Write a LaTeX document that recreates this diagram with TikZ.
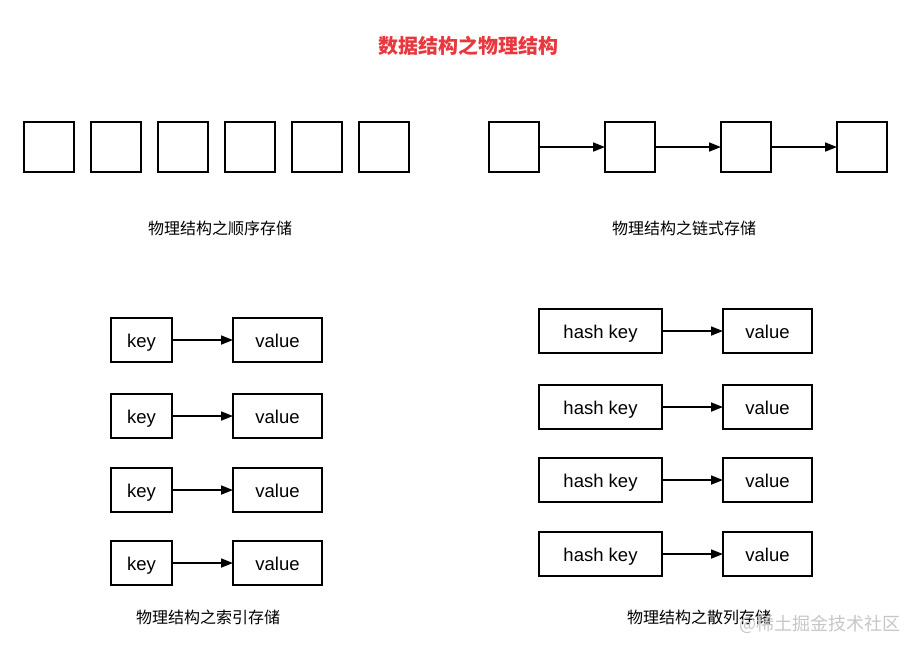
\documentclass[tikz,border=0pt]{standalone}
\usepackage{fontspec}
\setmainfont{Liberation Sans}
\newfontfamily\cjk{Noto Sans CJK SC}
\usetikzlibrary{positioning, arrows.meta}
\definecolor{titlered}{HTML}{E8383D}

\begin{document}
\begin{tikzpicture}[x=1pt, y=-1pt, >={Triangle[length=12pt,width=9pt]}, node distance=17pt,
  cell/.style={draw, line width=1.7pt, outer sep=0pt, minimum size=50pt, inner sep=0pt},
  keybox/.style={draw, line width=1.7pt, outer sep=0pt, minimum height=44pt, minimum width=61pt,
    text height=17pt, text depth=2pt, font=\fontsize{18.5}{20}\selectfont},
  valbox/.style={keybox, minimum width=89pt},
  hashbox/.style={keybox, minimum width=123pt},
  caption/.style={font=\cjk\fontsize{16}{18}\selectfont},
  link/.style={->, line width=1.7pt}]
  \useasboundingbox (0,0) rectangle (919,653);
  \node[font=\cjk\bfseries\fontsize{20}{24}\selectfont, text=titlered] (title) at (468,46) {数据结构之物理结构};

  % sequential storage
  \node[cell] (s1) at (49,147) {};
  \node[cell, right=of s1] (s2) {};
  \node[cell, right=of s2] (s3) {};
  \node[cell, right=of s3] (s4) {};
  \node[cell, right=of s4] (s5) {};
  \node[cell, right=of s5] (s6) {};
  \node[caption] (seqlabel) at (220,228) {物理结构之顺序存储};

  % linked storage
  \node[cell] (c1) at (514,147) {};
  \node[cell, right=66pt of c1] (c2) {};
  \node[cell, right=66pt of c2] (c3) {};
  \node[cell, right=66pt of c3] (c4) {};
  \draw[link] (c1) -- (c2);
  \draw[link] (c2) -- (c3);
  \draw[link] (c3) -- (c4);
  \node[caption] (linklabel) at (684,228) {物理结构之链式存储};

  % index storage
  \node[keybox] (k1) at (141.5,340) {key};
  \node[valbox, right=61pt of k1] (v1) {value};
  \node[keybox] (k2) at (141.5,416) {key};
  \node[valbox, right=61pt of k2] (v2) {value};
  \node[keybox] (k3) at (141.5,490) {key};
  \node[valbox, right=61pt of k3] (v3) {value};
  \node[keybox] (k4) at (141.5,563) {key};
  \node[valbox, right=61pt of k4] (v4) {value};
  \draw[link] (k1) -- (v1);
  \draw[link] (k2) -- (v2);
  \draw[link] (k3) -- (v3);
  \draw[link] (k4) -- (v4);
  \node[caption] (idxlabel) at (208,617) {物理结构之索引存储};

  % hash storage
  \node[hashbox] (h1) at (600.5,331) {hash key};
  \node[valbox, right=61pt of h1] (hv1) {value};
  \node[hashbox] (h2) at (600.5,407) {hash key};
  \node[valbox, right=61pt of h2] (hv2) {value};
  \node[hashbox] (h3) at (600.5,480) {hash key};
  \node[valbox, right=61pt of h3] (hv3) {value};
  \node[hashbox] (h4) at (600.5,554) {hash key};
  \node[valbox, right=61pt of h4] (hv4) {value};
  \draw[link] (h1) -- (hv1);
  \draw[link] (h2) -- (hv2);
  \draw[link] (h3) -- (hv3);
  \draw[link] (h4) -- (hv4);
  \node[caption] (hashlabel) at (699,617) {物理结构之散列存储};
  \node[font=\cjk\fontsize{18}{20}\selectfont, text=gray!45] (mark) at (820,624) {@稀土掘金技术社区};
\end{tikzpicture}
\end{document}
